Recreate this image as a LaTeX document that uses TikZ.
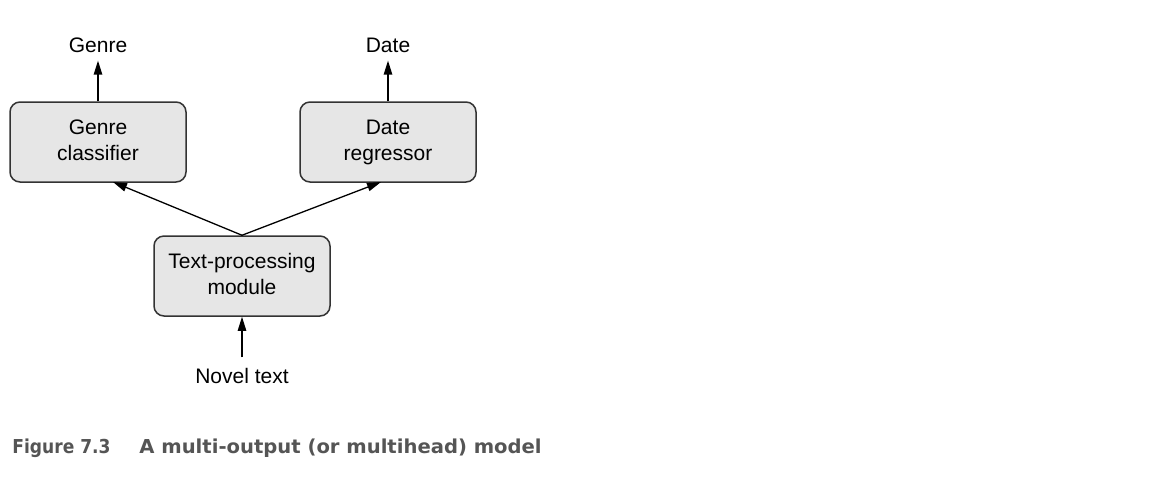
\documentclass[tikz,border=0pt]{standalone}
\usepackage{fontspec}
\setmainfont{Liberation Sans}
\newfontfamily\capfont{DejaVu Sans}
\usetikzlibrary{arrows.meta}
\definecolor{boxfill}{HTML}{E6E6E6}
\definecolor{boxline}{HTML}{333333}
\definecolor{capgray}{HTML}{555555}
\begin{document}
\begin{tikzpicture}[x=0.5pt,y=-0.5pt,
  module/.style={draw=boxline, fill=boxfill, line width=0.75pt, rounded corners=5pt,
    minimum width=88pt, minimum height=40pt, inner sep=0pt, align=center,
    font=\fontsize{10.5pt}{13pt}\selectfont},
  lbl/.style={inner sep=0pt, anchor=base, font=\fontsize{10.5pt}{13pt}\selectfont},
  conn/.style={line width=0.65pt, -{Triangle[length=7pt,width=4.2pt]}},
  captext/.style={inner sep=0pt, anchor=base west, text=capgray,
    font=\capfont\bfseries\fontsize{9.6pt}{12pt}\selectfont}]
\useasboundingbox (0,0) rectangle (1176,478);
\node[module] (gc) at (98,142) {\strut Genre\\classifier\strut};
\node[module] (dr) at (388,142) {\strut Date\\regressor\strut};
\node[module] (tp) at (242,276) {\strut Text-processing\\module\strut};
\node[lbl] (gl) at (98,52) {Genre};
\node[lbl] (dl) at (388,52) {Date};
\node[lbl] (nt) at (242,383) {Novel text};
\coordinate (gin) at (113,182);
\coordinate (din) at (381,182);
\draw[conn, shorten >=4pt] (gc.north) -- (gl.south);
\draw[conn, shorten >=4pt] (dr.north) -- (dl.south);
\draw[conn] (tp.north) -- (gin);
\draw[conn] (tp.north) -- (din);
\draw[conn, shorten <=5pt] (nt.north) -- (tp.south);
\node[captext] (capnum) at (12,453) {\scalebox{0.89}[1]{Figure 7.3}};
\node[captext] (captitle) at (139,453) {\scalebox{1.02}[1]{A multi-output (or multihead) model}};
\end{tikzpicture}
\end{document}
